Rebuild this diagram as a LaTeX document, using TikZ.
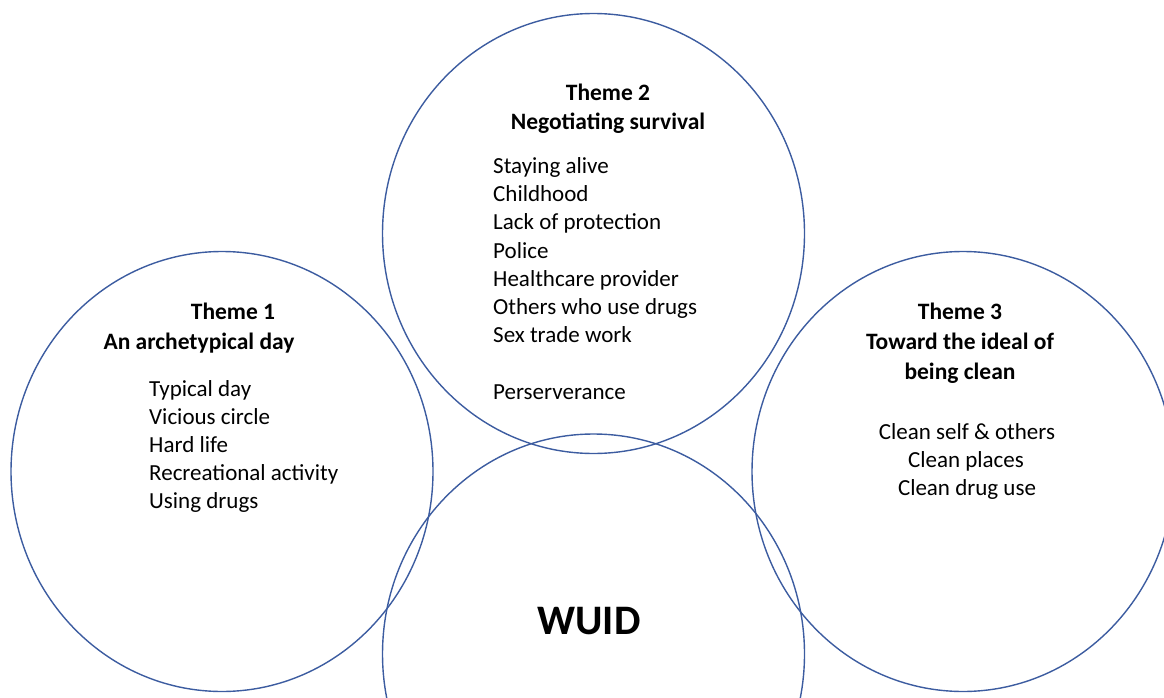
\documentclass[tikz,border=0pt]{standalone}
\usepackage{fontspec}
\setmainfont{Carlito}
\usetikzlibrary{shapes.geometric}
\definecolor{ringblue}{RGB}{60,92,160}
\tikzset{
  ring/.style={draw=ringblue, line width=1.4pt, ellipse, minimum width=422pt, minimum height=440pt, inner sep=0pt},
  ttl/.style={font=\fontsize{23.5}{28}\selectfont\bfseries, anchor=mid, inner sep=0pt},
  itm/.style={font=\fontsize{23}{28}\selectfont, anchor=mid west, inner sep=0pt},
  itc/.style={font=\fontsize{23}{28}\selectfont, anchor=mid, inner sep=0pt},
  big/.style={font=\fontsize{42}{50}\selectfont\bfseries, anchor=mid, inner sep=0pt}
}
\begin{document}
\begin{tikzpicture}[x=1pt,y=-1pt]
\useasboundingbox (0,0) rectangle (1164,698);
\clip (0,0) rectangle (1164,698);
% circles
\node[ring] (c2) at (593.5,233.5) {};
\node[ring] (c1) at (222,471.5) {};
\node[ring] (c3) at (963,471.5) {};
\node[ring] (cw) at (593.5,654) {};
% theme 2
\node[ttl] (t2a) at (608,98) {Theme 2};
\node[ttl] (t2b) at (608,127) {Negotiating survival};
\foreach \txt/\yy [count=\i] in {Staying alive/171, Childhood/199, Lack of protection/227, Police/256, Healthcare provider/284, Others who use drugs/312, Sex trade work/340, Perserverance/397}
  \node[itm] (t2i\i) at (493,\yy) {\txt};
% theme 1
\node[ttl] (t1a) at (233,317) {Theme 1};
\node[ttl] (t1b) at (199,347) {An archetypical day};
\foreach \txt/\yy [count=\i] in {Typical day/394, Vicious circle/422, Hard life/450, Recreational activity/478, Using drugs/506}
  \node[itm] (t1i\i) at (149,\yy) {\txt};
% theme 3
\node[ttl] (t3a) at (960,317) {Theme 3};
\node[ttl] (t3b) at (960,347) {Toward the ideal of};
\node[ttl] (t3c) at (960,377) {being clean};
\node[itc] (t3i1) at (967,437) {Clean self \& others};
\node[itc] (t3i2) at (966,465) {Clean places};
\node[itc] (t3i3) at (967,493) {Clean drug use};
% centre
\node[big] (w) at (589,632) {WUID};
\end{tikzpicture}
\end{document}
